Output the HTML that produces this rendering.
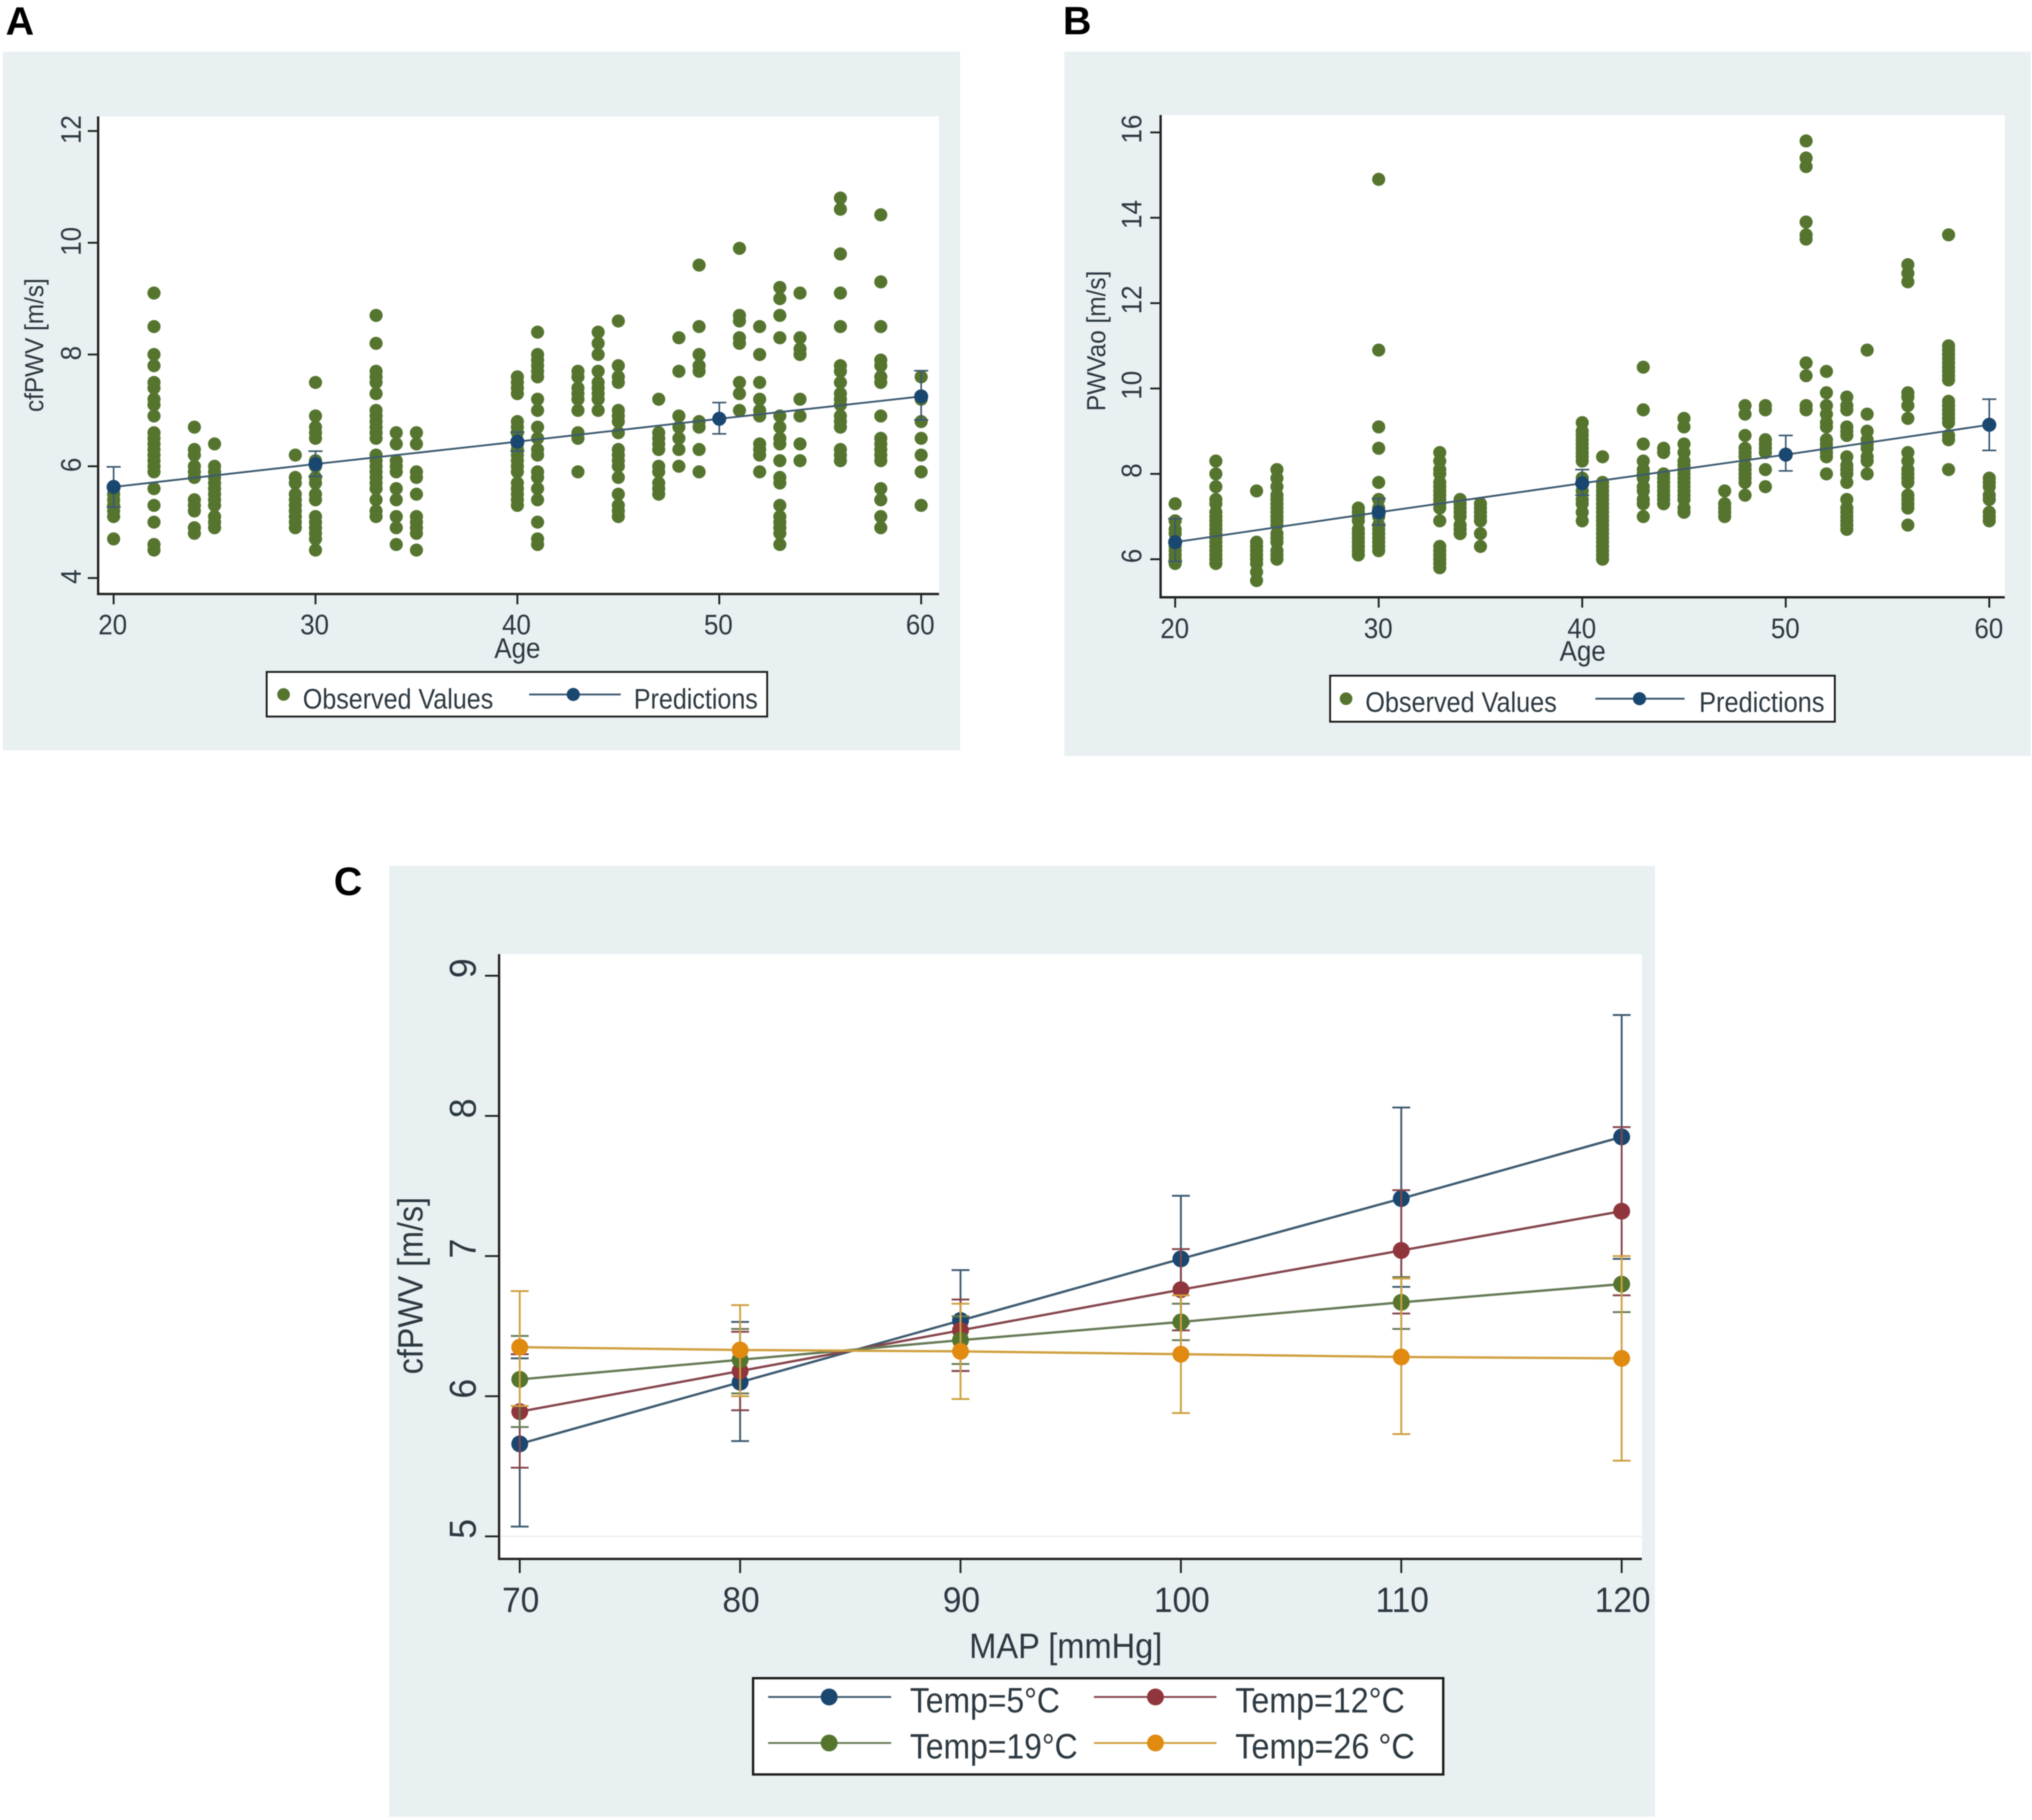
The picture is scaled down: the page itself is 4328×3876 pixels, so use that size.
<!DOCTYPE html>
<html lang="en">
<head>
<meta charset="utf-8">
<title>Pulse wave velocity by age and mean arterial pressure</title>
<style>
html,body{margin:0;padding:0;background:#fff;overflow:hidden;}
svg{display:block;}
text{font-family:"Liberation Sans",sans-serif;fill:#2c3840;}
.bold-letter{font-weight:bold;fill:#000;font-size:84px;}
</style>
</head>
<body>
<svg id="figure" xmlns="http://www.w3.org/2000/svg" width="4328" height="3876" viewBox="0 0 4328 3876" style="filter:blur(1px)">
  <rect width="4328" height="3876" fill="#ffffff"/>
  <text class="bold-letter" x="12" y="74">A</text>
  <text class="bold-letter" x="2264" y="73">B</text>
  <text class="bold-letter" x="711" y="1906">C</text>

  <g>
    <rect x="6" y="110" width="2039" height="1488" fill="#e8f0f2"/>
    <rect x="209" y="248" width="1791" height="1017" fill="#ffffff"/>
    <g id="panel-a-marks"></g>
    <text transform="translate(1102,1401) scale(.92,1)" font-size="60" text-anchor="middle">Age</text>
    <text transform="translate(92,735) rotate(-90) scale(.925,1)" font-size="56" text-anchor="middle">cfPWV [m/s]</text>
    <g>
      <rect x="568" y="1431" width="1066" height="95" fill="#fff" stroke="#1c1c1c" stroke-width="4"/>
      <circle cx="604" cy="1479" r="13.5" fill="#55752f"/>
      <text transform="translate(645,1509) scale(.89,1)" font-size="60">Observed Values</text>
      <line x1="1127" x2="1322" y1="1479" y2="1479" stroke="#3d5a70" stroke-width="4"/>
      <circle cx="1221" cy="1479" r="14" fill="#1a476f"/>
      <text transform="translate(1350,1509) scale(.89,1)" font-size="60">Predictions</text>
    </g>
  </g>

  <g>
    <rect x="2267" y="110" width="2058" height="1500" fill="#e8f0f2"/>
    <rect x="2472" y="245" width="1798" height="1027" fill="#ffffff"/>
    <g id="panel-b-marks"></g>
    <text transform="translate(3371,1407) scale(.92,1)" font-size="60" text-anchor="middle">Age</text>
    <text transform="translate(2354,726) rotate(-90) scale(.927,1)" font-size="56" text-anchor="middle">PWVao [m/s]</text>
    <g>
      <rect x="2833" y="1439" width="1075" height="98" fill="#fff" stroke="#1c1c1c" stroke-width="4"/>
      <circle cx="2867" cy="1488" r="13.5" fill="#55752f"/>
      <text transform="translate(2908,1516) scale(.895,1)" font-size="60">Observed Values</text>
      <line x1="3398" x2="3588" y1="1488" y2="1488" stroke="#3d5a70" stroke-width="4"/>
      <circle cx="3492" cy="1488" r="14" fill="#1a476f"/>
      <text transform="translate(3619,1516) scale(.9,1)" font-size="60">Predictions</text>
    </g>
  </g>

  <g>
    <rect x="829" y="1844" width="2696" height="2025" fill="#e8f0f2"/>
    <rect x="1063" y="2032" width="2434" height="1288" fill="#ffffff"/>
    <g id="panel-c-marks"></g>
    <text transform="translate(2270,3531) scale(.925,1)" font-size="75" text-anchor="middle">MAP [mmHg]</text>
    <text transform="translate(900,2738) rotate(-90) scale(.915,1)" font-size="75" text-anchor="middle">cfPWV [m/s]</text>
    <g>
      <rect x="1604" y="3574" width="1470" height="205" fill="#fff" stroke="#1c1c1c" stroke-width="5"/>
      <line x1="1636" x2="1898" y1="3614" y2="3614" stroke="#3d5a70" stroke-width="4"/>
      <circle cx="1766" cy="3614" r="18" fill="#1a476f"/>
      <text transform="translate(1938,3647) scale(.905,1)" font-size="75">Temp=5°C</text>
      <line x1="2330" x2="2591" y1="3614" y2="3614" stroke="#85454c" stroke-width="4"/>
      <circle cx="2461" cy="3614" r="18" fill="#90353b"/>
      <text transform="translate(2631,3647) scale(.915,1)" font-size="75">Temp=12°C</text>
      <line x1="1636" x2="1898" y1="3712" y2="3712" stroke="#667a55" stroke-width="4"/>
      <circle cx="1766" cy="3712" r="18" fill="#55752f"/>
      <text transform="translate(1938,3745) scale(.905,1)" font-size="75">Temp=19°C</text>
      <line x1="2330" x2="2591" y1="3712" y2="3712" stroke="#cfa040" stroke-width="4"/>
      <circle cx="2461" cy="3712" r="18" fill="#e08a10"/>
      <text transform="translate(2631,3745) scale(.92,1)" font-size="75">Temp=26 °C</text>
    </g>
  </g>
</svg>

<script>
// ---------- Panel A data ----------
const panelAAges = [20,22,24,25,29,30,33,34,35,40,41,43,44,45,47,48,49,51,52,53,54,56,58,60];
const panelAObserved = [
  [4.7,5.1,5.2,5.3,5.4,5.5,5.6],
  [4.5,4.6,5.0,5.3,5.6,5.9,6.0,6.1,6.2,6.3,6.4,6.5,6.6,6.9,7.1,7.2,7.4,7.5,7.8,8.0,8.5,9.1],
  [4.8,4.9,5.2,5.3,5.4,5.8,5.9,6.0,6.2,6.3,6.7],
  [4.9,5.0,5.1,5.3,5.4,5.5,5.6,5.7,5.8,5.9,6.0,6.4],
  [4.9,5.0,5.1,5.2,5.3,5.4,5.5,5.7,5.8,6.2],
  [4.5,4.7,4.8,4.9,5.0,5.1,5.4,5.5,5.7,5.8,6.0,6.1,6.5,6.6,6.7,6.9,7.5],
  [5.1,5.2,5.4,5.6,5.7,5.8,5.9,6.0,6.1,6.2,6.5,6.6,6.7,6.8,6.9,7.0,7.3,7.5,7.6,7.7,8.2,8.7],
  [4.6,4.9,5.1,5.4,5.6,5.9,6.0,6.1,6.4,6.6],
  [4.5,4.8,4.9,5.0,5.1,5.5,5.8,5.9,6.4,6.6],
  [5.3,5.4,5.5,5.6,5.7,5.9,6.0,6.1,6.2,6.3,6.4,6.6,6.7,6.8,7.3,7.4,7.5,7.6],
  [4.6,4.7,5.0,5.4,5.6,5.8,5.9,6.2,6.3,6.5,6.7,7.0,7.2,7.6,7.7,7.8,7.9,8.0,8.4],
  [5.9,6.5,6.6,7.0,7.2,7.3,7.4,7.6,7.7],
  [7.0,7.2,7.3,7.4,7.5,7.7,8.0,8.2,8.4],
  [5.1,5.2,5.3,5.5,5.8,6.0,6.1,6.2,6.3,6.6,6.8,6.9,7.0,7.5,7.6,7.8,8.6],
  [5.5,5.6,5.7,5.9,6.0,6.3,6.4,6.5,6.6,7.2],
  [6.0,6.3,6.5,6.7,6.9,7.7,8.3],
  [5.9,6.3,6.7,6.8,7.7,7.8,8.0,8.5,9.6],
  [7.0,7.3,7.5,8.2,8.3,8.6,8.7,9.9],
  [5.9,6.2,6.3,6.4,6.9,7.0,7.2,7.5,8.0,8.5],
  [4.6,4.8,4.9,5.0,5.1,5.3,5.7,5.8,6.1,6.4,6.5,6.7,6.9,8.3,8.7,9.0,9.2],
  [6.1,6.4,6.9,7.2,8.0,8.1,8.3,9.1],
  [6.1,6.2,6.3,6.7,6.8,6.9,7.1,7.2,7.3,7.5,7.7,7.8,8.5,9.1,9.8,10.6,10.8],
  [4.9,5.1,5.4,5.6,6.1,6.2,6.3,6.4,6.5,6.9,7.5,7.6,7.8,7.9,8.5,9.3,10.5],
  [5.3,5.9,6.2,6.5,6.8,7.2,7.6]
];
const panelAPredAges = [20,30,40,50,60];
const panelAPredMean = [5.63,6.04,6.44,6.85,7.25];
const panelAPredLower = [5.27,5.82,6.27,6.58,6.83];
const panelAPredUpper = [5.99,6.27,6.61,7.14,7.71];
const panelAXTicks = [20,30,40,50,60];
const panelAYTicks = [4,6,8,10,12];

// ---------- Panel B data ----------
const panelBAges = [20,22,24,25,29,30,33,34,35,40,41,43,44,45,47,48,49,51,52,53,54,56,58,60];
const panelBObserved = [
  [5.9,6.0,6.1,6.2,6.3,6.4,6.6,6.7,6.9,7.3],
  [5.9,6.0,6.1,6.2,6.3,6.4,6.5,6.6,6.7,6.8,6.9,7.0,7.1,7.3,7.4,7.7,8.0,8.3],
  [5.5,5.7,5.9,6.0,6.1,6.2,6.3,6.4,7.6],
  [6.0,6.1,6.2,6.4,6.5,6.6,6.8,6.9,7.0,7.1,7.2,7.3,7.4,7.5,7.7,7.9,8.1],
  [6.1,6.2,6.3,6.4,6.5,6.6,6.7,6.9,7.0,7.1,7.2],
  [6.2,6.3,6.4,6.5,6.6,6.7,6.8,7.0,7.1,7.2,7.4,7.8,8.6,9.1,10.9,14.9],
  [5.8,5.9,6.0,6.1,6.2,6.3,6.9,7.2,7.3,7.4,7.5,7.6,7.7,7.8,8.0,8.1,8.3,8.5],
  [6.6,6.7,6.8,7.0,7.1,7.2,7.3,7.4],
  [6.3,6.6,6.9,7.0,7.1,7.2,7.3],
  [6.9,7.1,7.3,7.4,7.6,7.8,7.9,8.3,8.4,8.5,8.6,8.7,8.8,8.9,9.0,9.2],
  [6.0,6.1,6.2,6.3,6.4,6.5,6.6,6.7,6.8,6.9,7.0,7.1,7.2,7.3,7.4,7.5,7.6,7.7,7.8,8.4],
  [7.0,7.3,7.4,7.6,7.7,7.9,8.0,8.1,8.3,8.7,9.5,10.5],
  [7.3,7.4,7.5,7.6,7.7,7.8,7.9,8.0,8.5,8.6],
  [7.1,7.2,7.4,7.5,7.6,7.7,7.8,7.9,8.0,8.1,8.2,8.3,8.5,8.7,9.1,9.3],
  [7.0,7.1,7.2,7.3,7.6],
  [7.5,7.8,7.9,8.0,8.1,8.2,8.4,8.5,8.6,8.9,9.4,9.6],
  [7.7,8.1,8.5,8.6,8.7,8.8,9.5,9.6],
  [9.5,9.6,10.3,10.6,13.5,13.6,13.9,15.2,15.4,15.8],
  [8.0,8.4,8.5,8.6,8.7,8.8,9.1,9.2,9.4,9.6,9.9,10.4],
  [6.7,6.8,6.9,7.0,7.1,7.2,7.4,7.8,8.0,8.1,8.2,8.4,8.9,9.0,9.1,9.5,9.6,9.8],
  [8.0,8.3,8.4,8.6,8.7,8.8,9.0,9.4,10.9],
  [6.8,7.2,7.3,7.4,7.5,7.8,7.9,8.0,8.1,8.3,8.5,9.3,9.6,9.8,9.9,12.5,12.7,12.9],
  [8.1,8.8,8.9,9.2,9.3,9.4,9.5,9.6,9.7,10.2,10.3,10.4,10.5,10.6,10.7,10.8,10.9,11.0,13.6],
  [6.9,7.0,7.1,7.4,7.5,7.7,7.8,7.9]
];
const panelBPredAges = [20,30,40,50,60];
const panelBPredMean = [6.4,7.1,7.78,8.45,9.15];
const panelBPredLower = [5.95,6.8,7.5,8.07,8.55];
const panelBPredUpper = [6.95,7.42,8.1,8.9,9.75];
const panelBXTicks = [20,30,40,50,60];
const panelBYTicks = [6,8,10,12,14,16];

// ---------- Panel C data ----------
const mapValues = [70,80,90,100,110,120];
const panelCXTicks = [70,80,90,100,110,120];
const panelCYTicks = [5,6,7,8,9];
const temp5Mean = [5.66,6.10,6.54,6.98,7.41,7.85];
const temp5Lower = [5.07,5.68,6.18,6.52,6.78,6.98];
const temp5Upper = [6.27,6.53,6.90,7.43,8.06,8.72];
const temp12Mean = [5.89,6.18,6.47,6.76,7.04,7.32];
const temp12Lower = [5.49,5.90,6.18,6.47,6.59,6.72];
const temp12Upper = [6.30,6.46,6.69,7.05,7.47,7.92];
const temp19Mean = [6.12,6.26,6.40,6.53,6.67,6.80];
const temp19Lower = [5.78,6.02,6.23,6.40,6.48,6.60];
const temp19Upper = [6.43,6.48,6.57,6.66,6.85,7.00];
const temp26Mean = [6.35,6.33,6.32,6.30,6.28,6.27];
const temp26Lower = [5.93,6.00,5.98,5.88,5.73,5.54];
const temp26Upper = [6.75,6.65,6.66,6.72,6.84,7.00];

const NS = 'http://www.w3.org/2000/svg';

function make(parent, tag, attrs, name) {
  const el = document.createElementNS(NS, tag);
  for (const k in attrs) el.setAttribute(k, attrs[k]);
  
  
  parent.appendChild(el);
  return el;
}

function linear(d0, d1, r0, r1) {
  return v => r0 + (v - d0) * (r1 - r0) / (d1 - d0);
}

function drawAxes(g, f, xTicks, yTicks, xScale, yScale) {
  for (const t of yTicks) {
    make(g, 'line', {x1: f.left - f.tickLen, x2: f.left, y1: yScale(t), y2: yScale(t), stroke: '#222', 'stroke-width': f.tickW}, 'y-tick');
    const lab = make(g, 'text', {transform: 'translate(' + f.yLabelX + ',' + (yScale(t) + f.yLabelDy) + ') rotate(-90) scale(' + f.tickSx + ',1)', 'font-size': f.yFont, 'text-anchor': 'middle'}, 'y-tick-label');
    lab.textContent = t;
  }
  for (const t of xTicks) {
    make(g, 'line', {x1: xScale(t), x2: xScale(t), y1: f.bottom, y2: f.bottom + f.tickLen, stroke: '#222', 'stroke-width': f.tickW}, 'x-tick');
    const lab = make(g, 'text', {transform: 'translate(' + (xScale(t) + f.xLabelDx) + ',' + f.xLabelY + ') scale(' + f.tickSx + ',1)', 'font-size': f.xFont, 'text-anchor': 'middle'}, 'x-tick-label');
    lab.textContent = t;
  }
  make(g, 'line', {x1: f.left, x2: f.left, y1: f.top, y2: f.bottom + f.axisW / 2, stroke: '#222', 'stroke-width': f.axisW}, 'y-axis-line');
  make(g, 'line', {x1: f.left, x2: f.right, y1: f.bottom, y2: f.bottom, stroke: '#222', 'stroke-width': f.axisW}, 'x-axis-line');
}

function drawSeries(g, xs, mean, lower, upper, xScale, yScale, color, lineColor, r, lineW, capHalf, barW) {
  xs.forEach((x, i) => {
    const px = xScale(x);
    make(g, 'line', {x1: px, x2: px, y1: yScale(lower[i]), y2: yScale(upper[i]), stroke: lineColor, 'stroke-width': barW}, 'error-bar');
    make(g, 'line', {x1: px - capHalf, x2: px + capHalf, y1: yScale(lower[i]), y2: yScale(lower[i]), stroke: lineColor, 'stroke-width': barW}, 'error-bar-lower-cap');
    make(g, 'line', {x1: px - capHalf, x2: px + capHalf, y1: yScale(upper[i]), y2: yScale(upper[i]), stroke: lineColor, 'stroke-width': barW}, 'error-bar-upper-cap');
  });
  const pts = xs.map((x, i) => xScale(x) + ',' + yScale(mean[i])).join(' ');
  make(g, 'polyline', {points: pts, fill: 'none', stroke: lineColor, 'stroke-width': lineW}, 'series-line');
  xs.forEach((x, i) => {
    make(g, 'circle', {cx: xScale(x), cy: yScale(mean[i]), r: r, fill: color}, 'series-point');
  });
}

function drawScatterPanel(gId, f, ages, observed, predAges, mean, lower, upper, xTicks, yTicks, y0, y1) {
  const g = document.getElementById(gId);
  const xScale = linear(20, 60, f.x20, f.x60);
  const yScale = linear(y0, y1, f.y0px, f.y1px);
  ages.forEach((age, i) => {
    observed[i].forEach(v => {
      make(g, 'circle', {cx: xScale(age), cy: yScale(v), r: 14, fill: '#55752f'}, 'observed-point');
    });
  });
  drawAxes(g, f, xTicks, yTicks, xScale, yScale);
  drawSeries(g, predAges, mean, lower, upper, xScale, yScale, '#1a476f', '#3d5a70', 15, 4, 15, 3.5);
}

drawScatterPanel('panel-a-marks',
  {left:209,right:2000,top:248,bottom:1265,tickLen:22,tickW:4,axisW:5,yLabelX:172,yLabelDy:-3,xLabelY:1351,xLabelDx:-2,tickSx:.92,xFont:60,yFont:60,x20:242,x60:1962,y0px:1231,y1px:279},
  panelAAges, panelAObserved, panelAPredAges, panelAPredMean, panelAPredLower, panelAPredUpper, panelAXTicks, panelAYTicks, 4, 12);

drawScatterPanel('panel-b-marks',
  {left:2472,right:4270,top:245,bottom:1272,tickLen:22,tickW:4,axisW:5,yLabelX:2431,yLabelDy:-7,xLabelY:1359,xLabelDx:-1,tickSx:.92,xFont:60,yFont:60,x20:2503,x60:4237,y0px:1191,y1px:282},
  panelBAges, panelBObserved, panelBPredAges, panelBPredMean, panelBPredLower, panelBPredUpper, panelBXTicks, panelBYTicks, 6, 16);

(function drawPanelC() {
  const g = document.getElementById('panel-c-marks');
  const f = {left:1063,right:3497,top:2032,bottom:3320,tickLen:30,tickW:4,axisW:5,yLabelX:1013,yLabelDy:-16,xLabelY:3433,xLabelDx:2,tickSx:.95,xFont:75,yFont:80};
  const xScale = linear(70, 120, 1107, 3454);
  const yScale = linear(5, 9, 3272, 2078);
  make(g, 'line', {x1: f.left, x2: f.right, y1: yScale(5), y2: yScale(5), stroke: '#eeeeee', 'stroke-width': 3}, 'gridline-5');
  drawAxes(g, f, panelCXTicks, panelCYTicks, xScale, yScale);
  drawSeries(g, mapValues, temp5Mean, temp5Lower, temp5Upper, xScale, yScale, '#1a476f', '#3d5a70', 18, 5, 19, 4);
  drawSeries(g, mapValues, temp12Mean, temp12Lower, temp12Upper, xScale, yScale, '#90353b', '#85454c', 18, 5, 19, 4);
  drawSeries(g, mapValues, temp19Mean, temp19Lower, temp19Upper, xScale, yScale, '#55752f', '#667a55', 18, 5, 19, 4);
  drawSeries(g, mapValues, temp26Mean, temp26Lower, temp26Upper, xScale, yScale, '#e08a10', '#cfa040', 18, 5, 19, 4);
})();
</script>
</body>
</html>
